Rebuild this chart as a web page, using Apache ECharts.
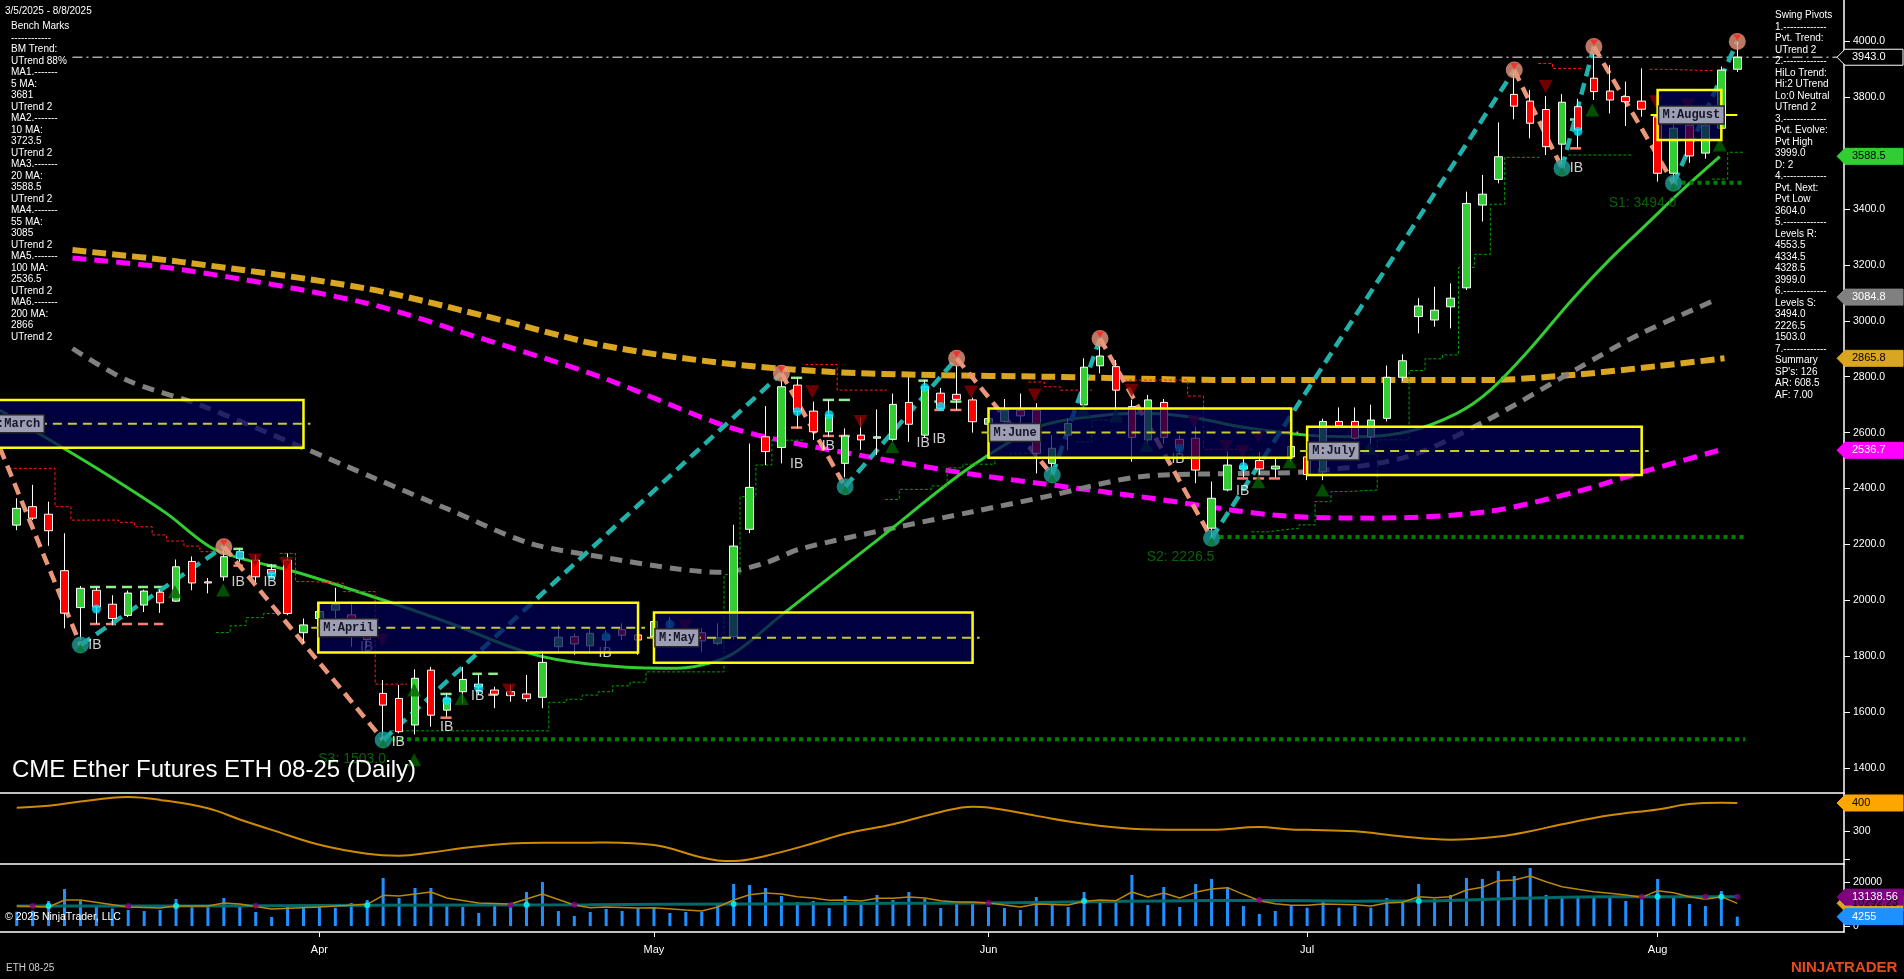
<!DOCTYPE html>
<html>
<head>
<meta charset="utf-8">
<title>CME Ether Futures ETH 08-25 (Daily)</title>
<script src="https://cdn.jsdelivr.net/npm/echarts@6.0.0/dist/echarts.min.js"></script>
<style>
html,body{margin:0;padding:0;background:#000;overflow:hidden;}
#chart{width:1904px;height:979px;}
</style>
</head>
<body>
<div id="chart"></div>
<script>
// ================= DATA =================
const marDays = [5,6,7,10,11,12,13,14,17,18,19,20,21,24,25,26,27,28,31];
const aprDays = [1,2,3,4,7,8,9,10,11,14,15,16,17,21,22,23,24,25,28,29,30];
const mayDays = [1,2,5,6,7,8,9,12,13,14,15,16,19,20,21,22,23,27,28,29,30];
const junDays = [2,3,4,5,6,9,10,11,12,13,16,17,18,20,23,24,25,26,27,30];
const julDays = [1,2,3,7,8,9,10,11,14,15,16,17,18,21,22,23,24,25,28,29,30,31];
const augDays = [1,4,5,6,7,8];
const monthNames = ['Apr','May','Jun','Jul','Aug'];

const opens = [
 2269,2335,2308,2106,1974,2036,1986,1946,1983,2029,
 1997,2139,2066,2084,2174,2144,2110,2144,1884,1935,
 1965,1948,1880,1667,1649,1554,1750,1607,1673,1690,
 1679,1673,1665,1653,1834,1870,1837,1858,1895,1876,
 1870,1900,1880,1884,1846,1870,2254,2585,2547,2770,
 2677,2603,2490,2591,2580,2576,2708,2591,2741,2737,
 2717,2630,2640,2680,2681,2490,2591,2699,2839,2836,
 2693,2574,2708,2576,2580,2258,2395,2470,2500,2470,
 2513,2513,2460,2640,2640,2585,2651,2798,3015,3003,
 3050,3118,3414,3506,3810,3786,3756,3632,3766,3868,
 3822,3802,3786,3730,3528,3700,3600,3689,3900];
const closes = [
 2329,2294,2249,1954,2043,1976,1935,2026,2033,1991,
 2120,2062,2062,2156,2150,2084,2095,1953,1912,1960,
 1985,1870,1860,1625,1530,1721,1589,1649,1717,1700,
 1664,1659,1648,1778,1868,1844,1882,1875,1875,1858,
 1924,1890,1860,1855,1866,2194,2404,2532,2764,2675,
 2603,2663,2588,2574,2585,2701,2630,2764,2687,2719,
 2639,2650,2680,2660,2526,2544,2633,2834,2874,2752,
 2583,2717,2583,2545,2466,2365,2484,2480,2470,2480,
 2550,2450,2640,2625,2580,2645,2798,2857,3053,3038,
 3081,3420,3453,3587,3768,3707,3623,3782,3683,3820,
 3790,3784,3757,3528,3689,3590,3700,3897,3943];
const lows = [
 2251,2287,2195,1900,1860,1917,1911,1940,1958,1955,
 1995,2036,2025,2070,2138,2066,2080,1947,1846,1880,
 1910,1834,1830,1505,1524,1520,1548,1584,1631,1662,
 1614,1637,1637,1614,1816,1805,1810,1822,1858,1805,
 1860,1860,1840,1816,1840,1860,2240,2484,2490,2615,
 2574,2585,2440,2538,2520,2570,2567,2580,2680,2680,
 2600,2560,2620,2600,2454,2460,2538,2681,2812,2675,
 2496,2562,2560,2520,2419,2226,2390,2440,2450,2440,
 2495,2430,2430,2615,2575,2560,2640,2785,2955,2979,
 2973,3110,3355,3492,3721,3653,3593,3560,3620,3790,
 3742,3697,3730,3498,3494,3565,3580,3680,3890];
const highs = [
 2365,2413,2353,2240,2051,2048,2018,2035,2038,2038,
 2146,2157,2080,2180,2186,2162,2130,2168,1935,1990,
 2045,1990,1905,1715,1697,1753,1762,1667,1762,1733,
 1691,1697,1733,1810,1911,1882,1900,1893,1918,1885,
 1935,1940,1895,1900,1918,2270,2561,2695,2790,2798,
 2711,2717,2615,2655,2683,2740,2798,2788,2760,2840,
 2725,2680,2720,2740,2705,2591,2651,2866,2910,2860,
 2717,2735,2720,2590,2621,2425,2532,2510,2530,2510,
 2565,2530,2650,2690,2690,2700,2840,2880,3081,3122,
 3134,3462,3522,3710,3885,3826,3804,3811,3794,3955,
 3915,3856,3903,3736,3707,3730,3740,3910,3999];
const volumes = [
 6500,7000,11360,16800,11500,8800,8000,7270,6800,7300,
 12270,9540,8790,12730,9090,6360,4090,9090,9090,9090,
 8330,10450,11800,21820,12730,17270,17270,9090,8640,5900,
 10300,9090,15450,20000,6800,4540,6360,7730,6820,8180,
 8640,5910,6360,6360,10450,19090,18640,17270,13640,10910,
 11360,8180,13640,10000,14090,11820,15450,12270,8180,10000,
 10450,8640,8180,7270,13180,9540,8640,15450,11820,10910,
 23180,9540,17730,8640,19090,21360,17730,9090,5450,6820,
 9090,8330,11820,8330,9090,8330,12730,10450,19090,12270,
 14090,21820,21360,25000,22730,26360,14090,13640,13640,13180,
 12730,11360,12270,21360,13640,10000,9090,15910,4255];

// volume averages (read at bar index)
const volAvgPts = [[0,9090],[2,8640],[3,11820],[4,11820],[7,8640],[9,8180],[10,9090],[12,9090],[13,10450],[14,10000],[16,7730],[19,8640],[22,9850],[23,13940],[24,13640],[26,15450],[27,12730],[29,10450],[31,10000],[33,14550],[35,9540],[36,8330],[37,8640],[39,8180],[40,8330],[42,7270],[43,6820],[44,8640],[45,11820],[46,14240],[47,15000],[48,14550],[49,13330],[50,12730],[51,11670],[52,11820],[53,11360],[54,12580],[55,12580],[56,13180],[57,12730],[58,11520],[59,10910],[60,10910],[61,10450],[62,9540],[63,8640],[64,10000],[66,9540],[67,11210],[68,11820],[69,11520],[70,15450],[71,13180],[72,15000],[73,12730],[74,15300],[75,16820],[76,17420],[77,14400],[78,11520],[79,10150],[80,9400],[81,9400],[82,10000],[84,9700],[85,9090],[86,10450],[87,10760],[88,13330],[89,12880],[90,13330],[91,16360],[92,17580],[93,20600],[94,20900],[95,22730],[96,20150],[97,17880],[98,16670],[99,15600],[100,14850],[101,14090],[102,13030],[103,16060],[104,15150],[105,13330],[106,12120],[107,13330],[108,10292]];
const volSlowPts = [[0,9090],[10,9100],[22,9400],[36,9700],[45,10000],[55,10300],[61,10450],[67,11000],[72,11400],[78,11600],[84,11300],[88,11360],[93,12300],[97,13100],[102,13330],[108,13330]];
const volCrossUp = [[2,9090],[10,9090],[22,9400],[32,9700],[45,10000],[67,11360],[88,11360],[103,13330],[107,13330]];
const volCrossDn = [[1,9090],[7,9090],[15,9200],[31,9500],[35,9700],[61,10450],[78,11820],[102,13330],[106,13330],[108,13330]];

// second panel line
const atrPts = [[0,383],[2,390],[4,405],[6,419],[7,421],[9,411],[12,381],[14,341],[16,304],[19,251],[22,219],[24,212],[26,223],[28,239],[31,255],[33,258],[36,258],[37,259],[40,250],[43,205],[44,195],[45,193],[47,211],[50,256],[52,290],[55,324],[58,368],[60,387],[61,384],[64,354],[67,326],[70,308],[73,304],[75,304],[78,314],[80,305],[81,304],[84,299],[87,280],[90,269],[93,280],[95,299],[97,324],[100,356],[103,377],[105,396],[107,401],[108,400]];

// moving averages
const ma20Pts = [[-1.05,2680],[1,2610],[5.2,2466],[9.4,2311],[12.5,2180],[17.8,2097],[23,2001],[27.2,1918],[32.2,1810],[35.9,1772],[40.6,1757],[42,1759],[44.8,1804],[48,1947],[54.3,2228],[59.6,2466],[64.2,2621],[67.4,2657],[70.5,2669],[73.6,2657],[76.8,2621],[81,2591],[84.1,2585],[87.3,2603],[90.4,2669],[92.5,2752],[95,2900],[97.6,3074],[100,3220],[102.3,3345],[104.4,3460],[106.9,3587]];
const ma55Pts = [[3.5,2901],[6.9,2788],[11.5,2699],[17.8,2550],[22.5,2436],[27.2,2323],[32.2,2204],[36.6,2156],[41.5,2112],[44.2,2100],[46.9,2132],[49.2,2184],[55.4,2263],[60,2317],[64.6,2371],[70.5,2442],[76.8,2454],[81,2460],[87.3,2514],[92.3,2645],[98,2830],[101.8,2950],[106.8,3079]];
const ma100Pts = [[3.5,3225],[10.4,3183],[21.8,3065],[29,2940],[36.6,2800],[44.3,2627],[47.9,2573],[53.4,2514],[59.6,2454],[64.4,2417],[70.5,2371],[78.9,2305],[85.1,2294],[92.3,2317],[98,2390],[101.8,2455],[106.8,2536]];
const ma200Pts = [[3.5,3253],[10.4,3210],[21.8,3117],[29.4,3017],[36.6,2914],[44.4,2848],[51.2,2817],[57.5,2806],[64.6,2800],[76.8,2788],[92.3,2788],[98,2808],[103,2838],[107.2,2866]];

// swing pivots
const pivotIdx = [-1.05,4,13,23,48,52,59,65,68,75,94,97,99,104,108];
const pivotPx  = [2545,1840,2192,1500,2812,2406,2866,2448,2937,2222,3897,3546,3981,3492,3999];
const pivotKind = ['H','L','H','L','H','L','H','L','H','L','H','L','H','L','H'];

// support levels
const supportNames = ['S1','S2','S3'];
const supportIdx = [104,75,23];
const supportVals = [3494.0,2226.5,1503.0];
const lastPrice = 3943.0;

// markers
const upTriangles = [[9.93,2031],[12.96,2037],[24.95,1679],[24.95,1430],[27.93,1649],[54.96,2550],[66.95,2681],[69,2659],[70.9,2555],[77.93,2424],[79.9,2496],[81.96,2395],[84.9,2544],[98.9,3754],[106.9,3629]];
const downTriangles = [[14.95,2144],[16.9,2132],[22.94,1858],[30.9,1679],[41.95,1908],[49.94,2746],[52.97,2640],[59.9,2745],[63.9,2735],[69.99,2752],[73.9,2639],[75.9,2550],[76.95,2532],[77.93,2585],[95.97,3838],[102.9,3784],[104.9,3772]];
const cyanDots = [[5,1969],[14,2162],[16,2091],[22,1896],[27,1641],[29,1685],[37,1870],[41,1914],[49,2675],[51,2664],[57,2761],[58,2693],[73,2544],[77,2478],[98,3677]];
const ibLabels = [[4.91,1840],[13.9,2064],[15.9,2064],[21.96,1834],[23.95,1494],[26.99,1548],[28.93,1658],[36.94,1810],[40.96,1864],[48.96,2488],[50.94,2552],[56.9,2564],[57.9,2577],[72.9,2505],[76.95,2389],[97.9,3546]];
const ibHighTicks = [[4.6,9.2,2048],[13.6,14.2,2184],[15.7,16.3,2124],[26.6,27.3,1665],[28.6,29.2,1737],[29.6,30.2,1737],[48.6,49.3,2796],[50.6,51.3,2717],[51.6,52.3,2717],[56.6,57.2,2786],[57.6,58.2,2711],[58.6,59.3,2711],[97.5,98.2,3720]];
const ibLowTicks = [[4.6,9.2,1915],[13.6,14.2,2124],[26.6,27.3,1580],[29.6,30.2,1662],[48.6,49.3,2618],[50.6,51.3,2588],[51.6,52.3,2588],[57.6,58.2,2681],[58.6,59.3,2681],[76.6,77.3,2436],[77.6,78.3,2436],[78.6,79.3,2436],[97.5,98.2,3617]];

// trailing step lines
const stopRed = [
 [[-0.5,2472],[2.4,2472],[2.4,2335],[3.4,2335],[3.4,2287],[6.4,2287],[6.4,2279],[7.4,2279],[7.4,2263],[8.5,2263],[8.5,2234],[9.4,2234],[9.4,2212],[10.5,2212],[10.5,2194],[11.5,2194],[11.5,2174],[12.5,2174]],
 [[16.5,2168],[17.5,2168],[17.5,2067],[18.4,2067],[18.4,2061],[20.5,2061],[20.5,2031],[22.5,2031],[22.5,1700],[24.5,1700]],
 [[49.5,2844],[51.5,2844],[51.5,2752],[54.6,2752]],
 [[63.5,2781],[64.5,2781],[64.5,2764],[65.5,2764],[65.5,2752],[67.5,2752]],
 [[69.5,2788],[73.5,2788],[73.5,2731],[74.5,2731],[74.5,2540],[77.6,2540]],
 [[95.5,3921],[96.4,3921],[96.4,3903],[98.3,3903]],
 [[102.5,3900],[103.4,3900],[103.4,3895],[106.5,3895]]
];
const stopGreen = [
 [[12.5,1885],[13.4,1885],[13.4,1909],[14.4,1909],[14.4,1938],[15.5,1938],[15.5,1953],[16.5,1953]],
 [[23.5,1533],[33.4,1533],[33.4,1635],[34.5,1635],[34.5,1646],[35.5,1646],[35.5,1661],[36.5,1661],[36.5,1673],[37.4,1673],[37.4,1694],[38.5,1694],[38.5,1707],[39.5,1707],[39.5,1744],[44.4,1744],[44.4,2092],[45.4,2092],[45.4,2371],[46.4,2371],[46.4,2484],[47.4,2484],[47.4,2573],[49.5,2573]],
 [[54.5,2361],[55.4,2361],[55.4,2397],[57.4,2397],[57.4,2409],[58.4,2409],[58.4,2474],[59.4,2474],[59.4,2487],[61.4,2487],[61.4,2510],[62.4,2510],[62.4,2526],[64.5,2526]],
 [[66.5,2567],[67.5,2567],[67.5,2645],[68.5,2645],[68.5,2651],[69.5,2651]],
 [[77.5,2245],[78.5,2245],[78.5,2252],[79.5,2252],[79.5,2258],[80.5,2258],[80.5,2270],[81.5,2270],[81.5,2353],[82.5,2353],[82.5,2389],[83.5,2389],[83.5,2395],[85.4,2395],[85.4,2574],[87.4,2574],[87.4,2822],[88.4,2822],[88.4,2864],[89.5,2864],[89.5,2878],[90.5,2878],[90.5,3191],[91.5,3191],[91.5,3238],[92.5,3238],[92.5,3417],[93.4,3417],[93.4,3585],[95.6,3585]],
 [[97.4,3593],[101.5,3593]],
 [[106.4,3507],[107.4,3507],[107.4,3603],[108.5,3603]]
];

// monthly boxes
const boxNames  = ['M:March','M:April','M:May','M:June','M:July','M:August'];
const boxStart  = [-2,18.93,40,61,81,103];
const boxEnd    = [18,39,60,80,102,107];
const boxTop    = [2717,1991,1956,2686,2621,3826];
const boxMid    = [2632,1902,1866,2600,2534,3736];
const boxBottom = [2546,1813,1777,2510,2448,3647];

// axis ticks
const priceTicks = [1400,1600,1800,2000,2200,2400,2600,2800,3000,3200,3400,3600,3800,4000];
const atrTicks = [200,300];
const atrLabelTicks = [300];
const volTicks = [0,20000];

// last-value tags
const maLastVals = {ma20:3588.5, ma55:3084.8, ma200:2865.8, ma100:2536.7};
const atrLast = 400;
const volSlowLast = 13138.56, volAvgLast = 10292.23, volLast = 4255;

const dateRangeText = '3/5/2025 - 8/8/2025';
const benchText = ['Bench Marks','------------','BM Trend:','UTrend 88%','MA1.-------','5 MA:','3681','UTrend 2','MA2.-------','10 MA:','3723.5','UTrend 2','MA3.-------','20 MA:','3588.5','UTrend 2','MA4.-------','55 MA:','3085','UTrend 2','MA5.-------','100 MA:','2536.5','UTrend 2','MA6.-------','200 MA:','2866','UTrend 2'];
const pivotText = ['Swing Pivots','1.-------------','Pvt. Trend:','UTrend 2','2.-------------','HiLo Trend:','Hi:2 UTrend','Lo:0 Neutral','UTrend 2','3.-------------','Pvt. Evolve:','Pvt High','3999.0','D: 2','4.-------------','Pvt. Next:','Pvt Low','3604.0','5.-------------','Levels R:','4553.5','4334.5','4328.5','3999.0','6.-------------','Levels S:','3494.0','2226.5','1503.0','7.-------------','Summary',"SP's: 126",'AR: 608.5','AF: 7.00'];
const titleText = 'CME Ether Futures ETH 08-25 (Daily)';

// ================= BUILD =================
const pad = d => String(d).padStart(2,'0');
const dates = [].concat(
  marDays.map(d=>'2025-03-'+pad(d)), aprDays.map(d=>'2025-04-'+pad(d)),
  mayDays.map(d=>'2025-05-'+pad(d)), junDays.map(d=>'2025-06-'+pad(d)),
  julDays.map(d=>'2025-07-'+pad(d)), augDays.map(d=>'2025-08-'+pad(d)));
const monthTickIdx = ['04','05','06','07','08'].map(m => dates.findIndex(d => d.slice(5,7) === m));

const FONT = '"Liberation Sans", Arial, sans-serif';
const XMIN = -1.05, XMAX = 114.7;

function poly(pts, color, width, dash, z, smooth) {
  return { type:'line', xAxisIndex:0, yAxisIndex:0, data:pts, symbol:'none', silent:true, z:z||1,
    smooth: smooth || false, clip:false,
    lineStyle:{color:color, width:width, type:dash||'solid', cap:'butt'}, emphasis:{disabled:true} };
}

const series = [];
// moving averages
series.push(poly(ma200Pts,'#DAA520',6,[14,6],1,0.3));
series.push(poly(ma100Pts,'#FF00FF',5,[14,8],1,0.3));
series.push(poly(ma55Pts,'#808080',5,[12,8],1,0.3));
series.push(poly(ma20Pts,'#32CD32',3,'solid',1,0.3));
// last price dash-dot line
series.push(poly([[3.5,lastPrice],[XMAX,lastPrice]],'#a8a8a8',1.5,[10,4,2,4],1));
// trailing stops
stopRed.forEach(s => series.push(poly(s,'#ff1a1a',1,[3,2],1)));
stopGreen.forEach(s => series.push(poly(s,'#00a000',1,[3,2],1)));
// support lines
supportIdx.forEach((ix,k) => series.push(poly([[ix,supportVals[k]],[108.5,supportVals[k]]],'#008000',4,[4,4],1)));
// zigzag
for (let k=0;k<pivotIdx.length-1;k++) {
  const col = pivotKind[k]==='H' ? '#E9967A' : '#20B2AA';
  series.push(poly([[pivotIdx[k],pivotPx[k]],[pivotIdx[k+1],pivotPx[k+1]]],col,4.5,[12,7],2));
}
// IB range ticks
function tickSeries(list, color) {
  return { type:'custom', xAxisIndex:0, yAxisIndex:0, z:2, silent:true, data:list,
    renderItem:(p,api)=>{ const a=api.coord([api.value(0),api.value(2)]); const b=api.coord([api.value(1),api.value(2)]);
      return {type:'line', shape:{x1:a[0],y1:a[1],x2:b[0],y2:b[1]}, style:{stroke:color,lineWidth:2.5,lineDash:(api.value(1)-api.value(0)>2)?[10,6]:null}}; } };
}
series.push(tickSeries(ibHighTicks,'#90EE90'));
series.push(tickSeries(ibLowTicks,'#FA8072'));
// candles
series.push({ type:'candlestick', xAxisIndex:0, yAxisIndex:0, z:3, barWidth:8,
  dimensions:['idx','open','close','lowest','highest'],
  encode:{x:'idx', y:['open','close','lowest','highest']},
  data: opens.map((o,i)=>[i,o,closes[i],lows[i],highs[i]]),
  itemStyle:{color:'#32CD32', color0:'#FF0000', borderColor:'#ffffff', borderColor0:'#ffffff', borderColorDoji:'#ffffff', borderWidth:1},
  emphasis:{disabled:true}, silent:true });
// markers
series.push({ type:'scatter', xAxisIndex:0, yAxisIndex:0, z:4, silent:true, data:upTriangles, symbol:'triangle', symbolSize:[14,13], itemStyle:{color:'#006400'} });
series.push({ type:'scatter', xAxisIndex:0, yAxisIndex:0, z:4, silent:true, data:downTriangles, symbol:'triangle', symbolRotate:180, symbolSize:[14,13], itemStyle:{color:'#8B0000'} });
series.push({ type:'scatter', xAxisIndex:0, yAxisIndex:0, z:4, silent:true, data:cyanDots, symbol:'circle', symbolSize:9, itemStyle:{color:'#00E5FF'} });
const hiPiv = [], loPiv = [];
pivotIdx.forEach((ix,k)=>{ if (k===0) return; (pivotKind[k]==='H'?hiPiv:loPiv).push([ix,pivotPx[k]]); });
series.push({ type:'scatter', xAxisIndex:0, yAxisIndex:0, z:4, silent:true, data:hiPiv, symbol:'circle', symbolSize:17, itemStyle:{color:'#E9967A'} });
series.push({ type:'scatter', xAxisIndex:0, yAxisIndex:0, z:4, silent:true, data:hiPiv, symbol:'triangle', symbolRotate:180, symbolSize:[8,6], symbolOffset:[0,-4], itemStyle:{color:'#ff2020'} });
series.push({ type:'scatter', xAxisIndex:0, yAxisIndex:0, z:4, silent:true, data:loPiv, symbol:'circle', symbolSize:17, itemStyle:{color:'#1f9e98'} });
series.push({ type:'scatter', xAxisIndex:0, yAxisIndex:0, z:4, silent:true, data:loPiv, symbol:'triangle', symbolSize:[9,8], symbolOffset:[0,3], itemStyle:{color:'#0a7a2a'} });
series.push({ type:'scatter', xAxisIndex:0, yAxisIndex:0, z:4, silent:true, data:ibLabels, symbol:'circle', symbolSize:1, itemStyle:{color:'rgba(0,0,0,0)'},
  label:{show:true, position:'inside', formatter:'IB', color:'#ffffff', fontSize:14, fontFamily:FONT, textShadowColor:'#E9967A', textShadowOffsetX:1, textShadowBlur:0} });
series.push({ type:'scatter', xAxisIndex:0, yAxisIndex:0, z:4, silent:true,
  data: supportIdx.map((ix,k)=>[ix,supportVals[k]]), symbol:'circle', symbolSize:1, itemStyle:{color:'rgba(0,0,0,0)'},
  label:{show:true, position:'inside', offset:[-31,20], color:'#0b7a0b', fontSize:14, fontFamily:FONT,
    formatter:p=>supportNames[p.dataIndex]+': '+supportVals[p.dataIndex].toFixed(1)} });
// monthly boxes
series.push({ type:'custom', xAxisIndex:0, yAxisIndex:0, z:10, silent:true, clip:false,
  data: boxNames.map((n,k)=>[boxStart[k],boxEnd[k],boxTop[k],boxMid[k],boxBottom[k]]),
  renderItem:(params,api)=>{
    const k = params.dataIndex;
    const a = api.coord([api.value(0),api.value(2)]);
    const b = api.coord([api.value(1),api.value(4)]);
    const m1 = api.coord([api.value(0),api.value(3)]);
    const m2 = api.coord([api.value(1),api.value(3)]);
    const isLast = k===boxNames.length-1;
    const mEnd = isLast ? api.coord([108,api.value(3)])[0] : m2[0]+7;
    const name = boxNames[k];
    const tw = name.length*7.2+8;
    return { type:'group', children:[
      {type:'rect', shape:{x:a[0],y:a[1],width:b[0]-a[0],height:b[1]-a[1]}, style:{fill:'rgba(0,0,88,0.72)', stroke:'#ffff00', lineWidth:2.5}},
      {type:'line', shape:{x1:m1[0]-7,y1:m1[1],x2:mEnd,y2:m2[1]}, style:{stroke:isLast?'#ffff00':'#c8c83c', lineWidth:2, lineDash:isLast?null:[9,6]}},
      {type:'rect', shape:{x:a[0]+1,y:m1[1]-9,width:tw,height:18}, style:{fill:'#9d9db3', stroke:'#262626', lineWidth:1.5}},
      {type:'text', style:{text:name, x:a[0]+5, y:m1[1], fill:'#15152a', font:'bold 12px "Liberation Mono", monospace', verticalAlign:'middle', textVerticalAlign:'middle'}}
    ]};
  } });
// second panel
series.push({ type:'line', xAxisIndex:1, yAxisIndex:1, data:atrPts, symbol:'none', smooth:0.4, silent:true,
  lineStyle:{color:'#d08a00', width:2} });
// volume panel
series.push({ type:'bar', xAxisIndex:2, yAxisIndex:2, barWidth:3, data:volumes.map((v,i)=>[i,v]), itemStyle:{color:'#1E90FF'}, silent:true, z:2 });
series.push({ type:'line', xAxisIndex:2, yAxisIndex:2, data:volSlowPts, symbol:'none', smooth:0.3, silent:true, z:3,
  lineStyle:{color:'#006a6a', width:3} });
series.push({ type:'line', xAxisIndex:2, yAxisIndex:2, data:volAvgPts, symbol:'none', silent:true, z:4,
  lineStyle:{color:'#b8860b', width:1.5} });
series.push({ type:'scatter', xAxisIndex:2, yAxisIndex:2, data:volCrossUp, symbolSize:6, itemStyle:{color:'#00ffff'}, silent:true, z:5 });
series.push({ type:'scatter', xAxisIndex:2, yAxisIndex:2, data:volCrossDn, symbolSize:6, itemStyle:{color:'#800080'}, silent:true, z:5 });

function yAx(grid, min, max, ticks, labels, fmt) {
  return { type:'value', gridIndex:grid, position:'right', min:min, max:max,
    axisLine:{show:true, onZero:false, lineStyle:{color:'#ffffff', width:1.5}},
    axisTick:{show:true, customValues:ticks, length:6, lineStyle:{color:'#ffffff'}},
    axisLabel:{show:true, customValues:labels, formatter:fmt, color:'#ffffff', fontSize:10.5, fontFamily:FONT, margin:9},
    splitLine:{show:false} };
}

const option = {
  backgroundColor:'#000000',
  animation:false,
  textStyle:{fontFamily:FONT},
  grid:[
    {left:0, right:60, top:0, height:793},
    {left:0, right:60, top:793, height:71},
    {left:0, right:60, top:864, height:68}
  ],
  xAxis:[0,1,2].map(g=>({
    type:'value', gridIndex:g, min:XMIN, max:XMAX,
    axisLine:{show:true, onZero:false, lineStyle:{color:'#ffffff', width:1.5}},
    axisTick: g===2 ? {show:true, customValues:monthTickIdx, length:5, lineStyle:{color:'#ffffff'}} : {show:false},
    axisLabel: g===2 ? {show:true, customValues:monthTickIdx, formatter:v=>monthNames[monthTickIdx.indexOf(v)], color:'#ffffff', fontSize:11, fontFamily:FONT, margin:12} : {show:false},
    splitLine:{show:false}
  })),
  yAxis:[
    yAx(0,1310.6,4147.8,priceTicks,priceTicks,v=>Number(v).toFixed(1)),
    yAx(1,182.1,435.7,atrTicks,atrLabelTicks,v=>String(Math.round(v))),
    yAx(2,-2727,28182,volTicks,volTicks,v=>String(Math.round(v)))
  ],
  series:series
};

const chart = echarts.init(document.getElementById('chart'), null, {renderer:'canvas', width:1904, height:979});
chart.setOption(option);

// ---------- overlay texts and value tags ----------
const els = [];
function txt(x, y, text, size, color) {
  els.push({ type:'text', z:100, silent:true,
    style:{text:text, x:x, y:y, fill:color||'#ffffff', font:(size||'10px')+' '+FONT, verticalAlign:'middle', textVerticalAlign:'middle'} });
}
txt(5, 11.3, dateRangeText, '10px');
benchText.forEach((t,k)=>txt(11, 26.7+k*11.5, t, '10px'));
pivotText.forEach((t,k)=>txt(1775, 15.7+k*11.5, t, '10px'));
txt(12, 770, titleText, '24px');
txt(5, 917.5, '\u00A9 2025 NinjaTrader, LLC', '10.5px');
txt(6, 968, 'ETH 08-25', '10px', '#cfcfcf');
txt(1791, 968, 'NINJATRADER', 'bold 15px', '#E8491D');

function badge(axisIdx, value, text, fill, textColor, stroke) {
  const y = chart.convertToPixel({yAxisIndex:axisIdx}, value);
  els.push({ type:'polygon', z:110, silent:true,
    shape:{points:[[1837,y],[1845,y-8],[1903,y-8],[1903,y+8],[1845,y+8]]},
    style:{fill:fill, stroke:stroke||fill, lineWidth:1} });
  els.push({ type:'text', z:111, silent:true,
    style:{text:text, x:1852, y:y, fill:textColor, font:'11px '+FONT, verticalAlign:'middle', textVerticalAlign:'middle'} });
}
badge(0, lastPrice, lastPrice.toFixed(1), '#000000', '#ffffff', '#ffffff');
badge(0, maLastVals.ma20, maLastVals.ma20.toFixed(1), '#32CD32', '#000000');
badge(0, maLastVals.ma55, maLastVals.ma55.toFixed(1), '#808080', '#ffffff');
badge(0, maLastVals.ma200, maLastVals.ma200.toFixed(1), '#DAA520', '#000000');
badge(0, maLastVals.ma100, maLastVals.ma100.toFixed(1), '#FF00FF', '#ffffff');
badge(1, atrLast, String(atrLast), '#FFA500', '#000000');
badge(2, volAvgLast, volAvgLast.toFixed(2), '#DAA520', '#000000');
badge(2, volSlowLast, volSlowLast.toFixed(2), '#800080', '#ffffff');
badge(2, volLast, String(volLast), '#1E90FF', '#ffffff');

chart.setOption({graphic:{elements:els}});
</script>
</body>
</html>
